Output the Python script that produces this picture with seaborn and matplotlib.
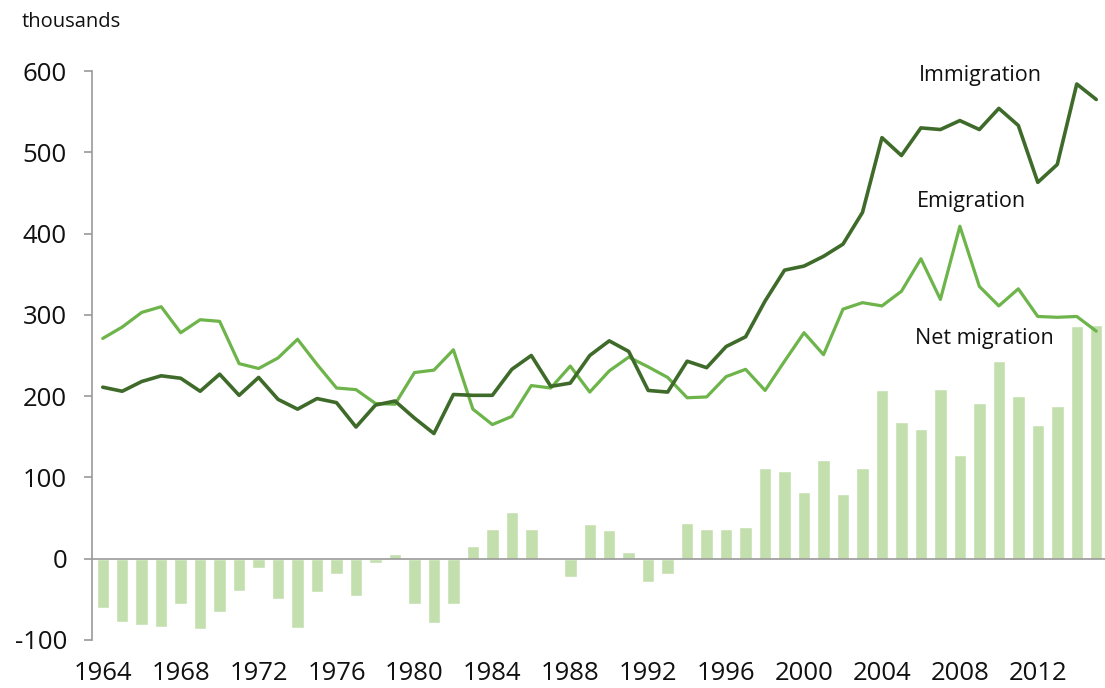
import numpy as np
import pandas as pd
import matplotlib
matplotlib.use("Agg")
import matplotlib.pyplot as plt
import seaborn as sns

# data (thousands)
years = list(range(1964, 2016))
immigration = [211, 206, 218, 225, 222, 206, 227, 201, 223, 196,
               184, 197, 192, 162, 189, 194, 173, 154, 202, 201,
               201, 233, 250, 212, 216, 250, 268, 255, 207, 205,
               243, 235, 261, 273, 317, 355, 360, 372, 387, 426,
               518, 496, 530, 528, 539, 528, 554, 533, 463, 485,
               584, 565]
emigration = [271, 285, 303, 310, 278, 294, 292, 240, 234, 247,
              270, 239, 210, 208, 191, 190, 229, 232, 257, 184,
              165, 175, 213, 210, 237, 205, 231, 248, 236, 223,
              198, 199, 224, 233, 207, 243, 278, 251, 307, 315,
              311, 329, 369, 319, 409, 335, 311, 332, 298, 297,
              298, 280]
net_migration = [-61, -78, -82, -84, -56, -87, -66, -40, -11, -50,
                 -85, -41, -19, -46, -5, 6, -56, -79, -56, 16,
                 36, 57, 36, 1, -22, 43, 35, 8, -29, -19,
                 44, 36, 36, 39, 112, 108, 82, 122, 80, 112,
                 207, 168, 159, 209, 128, 191, 243, 200, 164, 188,
                 286, 287]
y_ticks = [-100, 0, 100, 200, 300, 400, 500, 600]
x_ticks = list(range(1964, 2013, 4))

df = pd.DataFrame({"year": years, "Immigration": immigration,
                   "Emigration": emigration, "Net migration": net_migration})

sns.set_theme(style="white")
plt.rcParams["font.family"] = ["Open Sans", "DejaVu Sans"]

dark = "#3f6b2a"
light = "#6db44a"
barc = "#c4dfae"
grey = "#9a9a9a"

fig = plt.figure(figsize=(11.05, 6.88), dpi=100)
ax = fig.add_axes([0.0833, 0.0698, 0.9167, 0.827])

ax.bar(df["year"], df["Net migration"], width=0.64, color=barc, zorder=1)
ax.axhline(0, color=grey, lw=1.2, zorder=2)
sns.lineplot(data=df, x="year", y="Emigration", color=light, lw=2.3, ax=ax, zorder=3)
sns.lineplot(data=df, x="year", y="Immigration", color=dark, lw=2.6, ax=ax, zorder=4)

ax.set_xlim(1963.45, 2015.45)
ax.set_ylim(-100, 600)
ax.set_yticks(y_ticks)
ax.set_yticklabels([str(v) for v in y_ticks])
ax.set_xticks(x_ticks)
ax.set_xticklabels([str(v) for v in x_ticks])
ax.set_xlabel("")
ax.set_ylabel("")

for s in ["top", "right", "bottom"]:
    ax.spines[s].set_visible(False)
ax.spines["left"].set_color(grey)
ax.spines["left"].set_linewidth(1.2)

ax.tick_params(axis="y", length=6, width=1.2, color=grey, pad=12,
               labelsize=18.5, labelcolor="#111111", left=True)
ax.tick_params(axis="x", length=0, pad=15, labelsize=18.5, labelcolor="#111111")

fig.text(0.02, 0.968, "thousands", fontsize=14.5, color="#111111", va="center", ha="left")

ax.text(2009.05, 594, "Immigration", fontsize=15.5, color="#111111", ha="center", va="center")
ax.text(2008.6, 439, "Emigration", fontsize=15.5, color="#111111", ha="center", va="center")
ax.text(2009.25, 271, "Net migration", fontsize=15.5, color="#111111", ha="center", va="center")

fig.savefig("out.png", dpi=100)
